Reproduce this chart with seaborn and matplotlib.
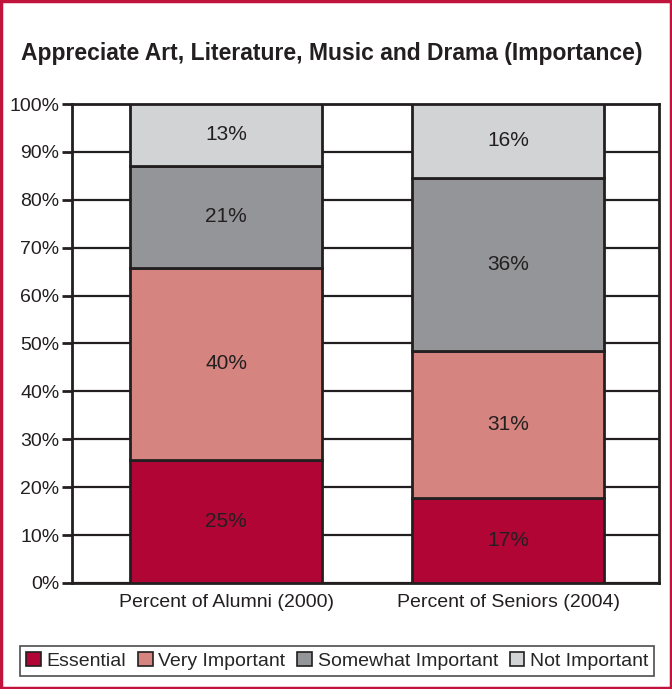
import pandas as pd
import numpy as np
import matplotlib
matplotlib.use("Agg")
import matplotlib.pyplot as plt
import seaborn as sns
from matplotlib.patches import Rectangle, Patch

groups = ["Percent of Alumni (2000)", "Percent of Seniors (2004)"]
levels = ["Essential", "Very Important", "Somewhat Important", "Not Important"]
# segment heights (percent)
essential = [25.7, 17.7]
very_imp = [40.1, 30.7]
somewhat_imp = [21.3, 36.2]
not_imp = [12.9, 15.4]
# printed labels
lab_essential = ["25%", "17%"]
lab_very = ["40%", "31%"]
lab_somewhat = ["21%", "36%"]
lab_not = ["13%", "16%"]

colors = ["#B00535", "#D5847F", "#939598", "#D1D3D4"]
edge = "#231F20"

rows = []
for name, vals, labs in zip(levels,
                            [essential, very_imp, somewhat_imp, not_imp],
                            [lab_essential, lab_very, lab_somewhat, lab_not]):
    for g, v, l in zip(groups, vals, labs):
        rows.append({"group": g, "level": name, "value": v, "label": l})
df = pd.DataFrame(rows)

sns.set_style("white")
plt.rcParams["font.family"] = ["Liberation Sans", "DejaVu Sans"]

fig = plt.figure(figsize=(6.72, 6.89), dpi=100)
ax = fig.add_axes([0.107, 0.154, 0.874, 0.695])

bottom = np.zeros(len(groups))
for name, col in zip(levels, colors):
    sub = df[df["level"] == name]
    sns.barplot(data=sub, x="group", y="value", color=col, width=0.68,
                bottom=bottom, edgecolor=edge, linewidth=2, ax=ax,
                saturation=1, zorder=3)
    for i, (v, l) in enumerate(zip(sub["value"], sub["label"])):
        ax.text(i, bottom[i] + v / 2, l, ha="center", va="center",
                fontsize=15, color="#231F20", zorder=4)
    bottom = bottom + sub["value"].values

ax.set_xlim(-0.546, 1.535)
ax.set_ylim(0, 100)
ax.set_yticks(range(0, 101, 10))
ax.set_yticklabels([f"{t}%" for t in range(0, 101, 10)], fontsize=14,
                   color="#231F20")
ax.tick_params(axis="y", length=7, width=2, color=edge, pad=2, left=True)
ax.tick_params(axis="x", length=0, labelsize=14, labelcolor="#231F20", pad=8)
ax.yaxis.grid(True, color=edge, linewidth=1.6, zorder=0)
ax.set_axisbelow(True)
for s in ax.spines.values():
    s.set_visible(True)
    s.set_color(edge)
    s.set_linewidth(2)
ax.set_xlabel("")
ax.set_ylabel("")

fig.text(0.493, 0.923, "Appreciate Art, Literature, Music and Drama (Importance)",
         ha="center", va="center", fontsize=16.5, fontweight="bold",
         color="#231F20")

handles = [Patch(facecolor=c, edgecolor=edge, linewidth=1.2) for c in colors]
leg = fig.legend(handles, levels, loc="center", bbox_to_anchor=(0.502, 0.041),
                 ncol=4, frameon=True, fancybox=False, handlelength=0.75,
                 handleheight=0.75, handletextpad=0.3, columnspacing=0.6,
                 borderpad=0.3, prop={"size": 14})
leg.get_frame().set_edgecolor(edge)
leg.get_frame().set_linewidth(1.2)

fig.patches.append(Rectangle((0.002, 0.002), 0.996, 0.996, transform=fig.transFigure,
                             fill=False, edgecolor="#C0143C", linewidth=2.5))

fig.savefig("out.png", dpi=100)
